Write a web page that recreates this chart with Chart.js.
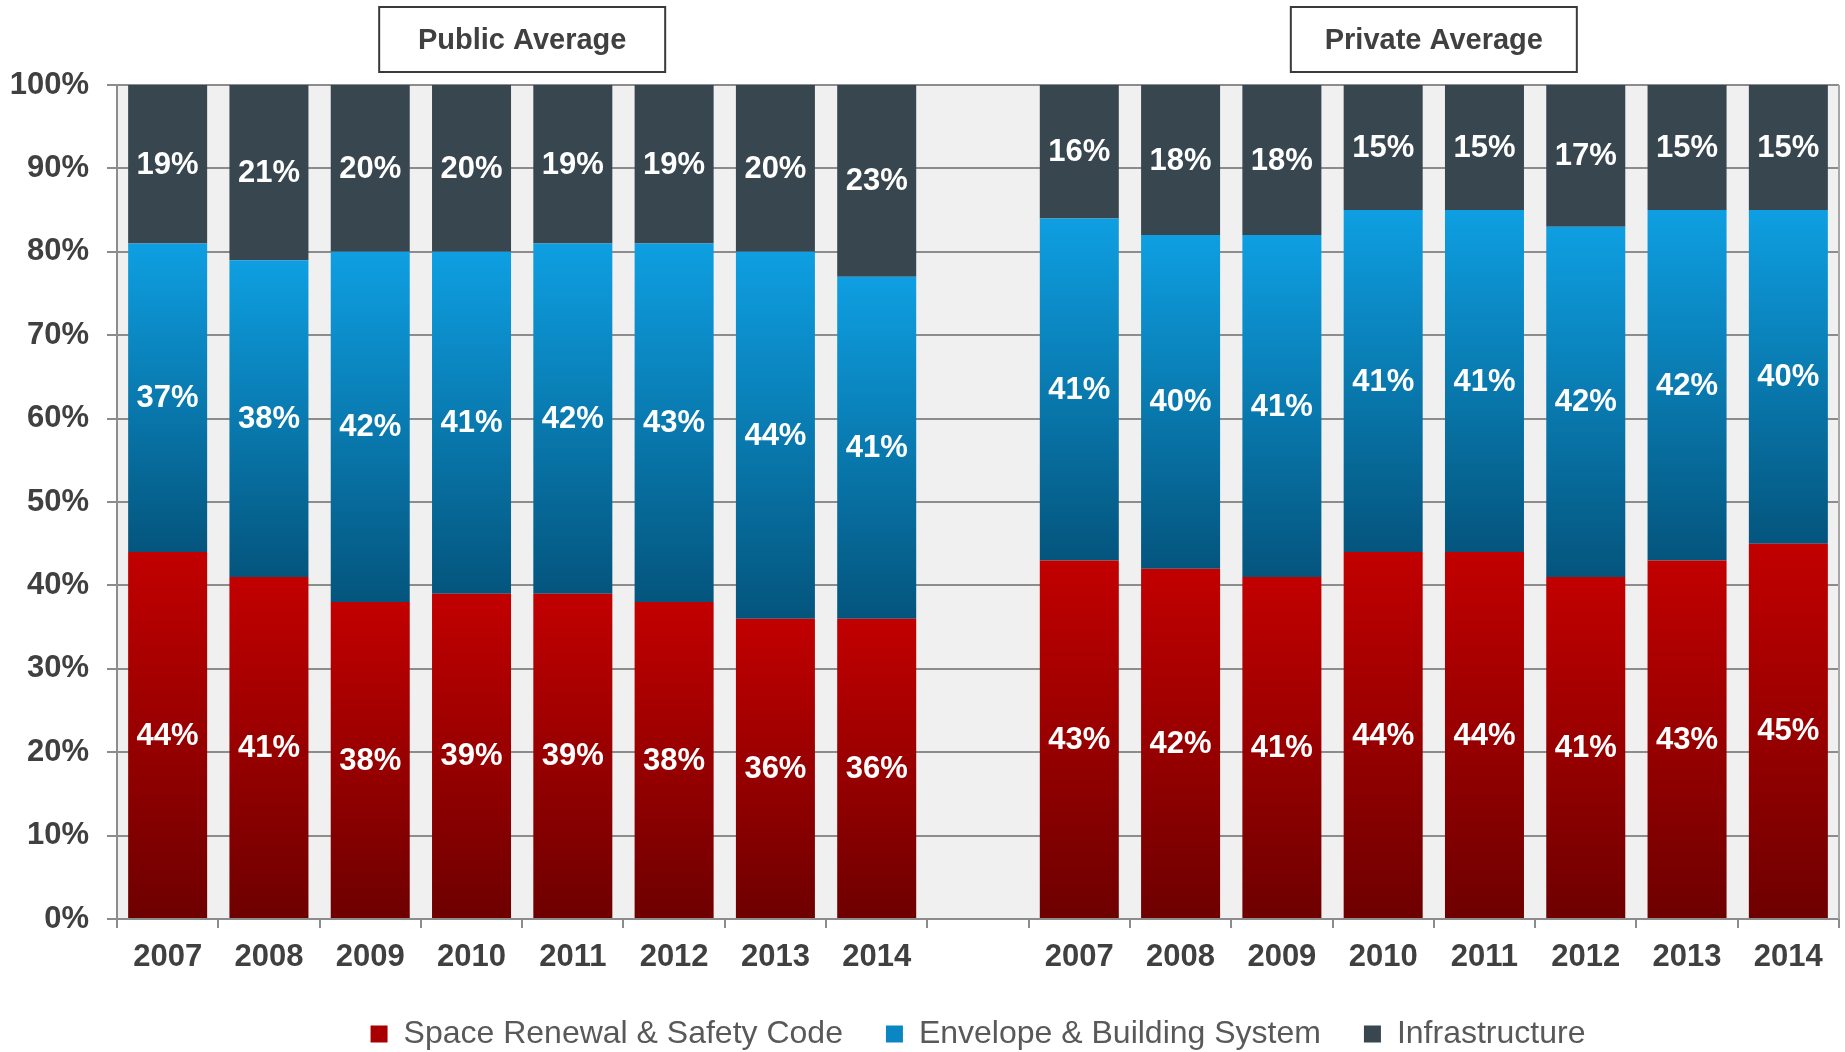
<!DOCTYPE html>
<html>
<head>
<meta charset="utf-8">
<title>Capital Renewal Mix by Year</title>
<script src="https://cdn.jsdelivr.net/npm/chart.js@4.4.1/dist/chart.umd.min.js"></script>
<style>
  html, body { margin: 0; padding: 0; background: #ffffff; }
</style>
</head>
<body>
<canvas id="mix" width="1845" height="1052"></canvas>
<script>
const years = ['2007', '2008', '2009', '2010', '2011', '2012', '2013', '2014'];
const groups = ['Public Average', 'Private Average'];
const seriesNames = ['Space Renewal & Safety Code', 'Envelope & Building System', 'Infrastructure'];

// share of spend per year, percent
const spacePublic = [44, 41, 38, 39, 39, 38, 36, 36];
const envelopePublic = [37, 38, 42, 41, 42, 43, 44, 41];
const infraPublic = [19, 21, 20, 20, 19, 19, 20, 23];

const spacePrivate = [43, 42, 41, 44, 44, 41, 43, 45];
const envelopePrivate = [41, 40, 41, 41, 41, 42, 42, 40];
const infraPrivate = [16, 18, 18, 15, 15, 17, 15, 15];

const FONT = '"Liberation Sans", Arial, sans-serif';

// one empty category separates the two groups
const labels = [...years, '', ...years];
const join = (a, b) => [...a, null, ...b];

// vertical gradient spanning just the one stacked segment
function segmentFill(topColor, bottomColor) {
  return (ctx) => {
    const chart = ctx.chart;
    const y = chart.scales.y;
    if (ctx.type !== 'data' || !y) return bottomColor;
    let base = 0;
    for (let d = 0; d < ctx.datasetIndex; d++) {
      base += chart.data.datasets[d].data[ctx.dataIndex] || 0;
    }
    const y0 = y.getPixelForValue(base + (ctx.raw || 0));
    const y1 = y.getPixelForValue(base);
    if (!isFinite(y0) || !isFinite(y1) || y0 === y1) return bottomColor;
    const g = chart.ctx.createLinearGradient(0, y0, 0, y1);
    g.addColorStop(0, topColor);
    g.addColorStop(1, bottomColor);
    return g;
  };
}

const swatches = ['#a80000', '#0a86c2', '#37464f'];

const plotBackground = {
  id: 'plotBackground',
  beforeDraw(chart) {
    const a = chart.chartArea;
    const ctx = chart.ctx;
    ctx.save();
    ctx.fillStyle = '#f0f0f0';
    ctx.fillRect(a.left, a.top, a.right - a.left, a.bottom - a.top);
    ctx.restore();
  },
  afterDraw(chart) {
    const a = chart.chartArea;
    const ctx = chart.ctx;
    ctx.save();
    ctx.strokeStyle = '#a6a6a6';
    ctx.lineWidth = 2;
    ctx.beginPath();
    ctx.moveTo(a.right, a.top);
    ctx.lineTo(a.right, a.bottom);
    ctx.stroke();
    ctx.restore();
  }
};

const segmentLabels = {
  id: 'segmentLabels',
  afterDatasetsDraw(chart) {
    const ctx = chart.ctx;
    ctx.save();
    ctx.font = 'bold 31px ' + FONT;
    ctx.fillStyle = '#ffffff';
    ctx.textAlign = 'center';
    ctx.textBaseline = 'middle';
    chart.data.datasets.forEach((ds, di) => {
      chart.getDatasetMeta(di).data.forEach((bar, i) => {
        const v = ds.data[i];
        if (v == null) return;
        const p = bar.getProps(['x', 'y', 'base'], true);
        ctx.fillText(v + '%', p.x, (p.y + p.base) / 2 + 1);
      });
    });
    ctx.restore();
  }
};

const groupHeaders = {
  id: 'groupHeaders',
  afterDraw(chart) {
    const x = chart.scales.x;
    const ctx = chart.ctx;
    const n = years.length;
    const w = 286, h = 65, top = 7;
    groups.forEach((name, g) => {
      const first = g * (n + 1);
      const cx = (x.getPixelForValue(first) + x.getPixelForValue(first + n - 1)) / 2;
      ctx.save();
      ctx.fillStyle = '#ffffff';
      ctx.fillRect(cx - w / 2, top, w, h);
      ctx.strokeStyle = '#3a3a3a';
      ctx.lineWidth = 2;
      ctx.strokeRect(cx - w / 2, top, w, h);
      ctx.font = 'bold 29px ' + FONT;
      ctx.fillStyle = '#404040';
      ctx.textAlign = 'center';
      ctx.textBaseline = 'middle';
      ctx.fillText(name, cx, top + h / 2 + 1);
      ctx.restore();
    });
  }
};

new Chart(document.getElementById('mix'), {
  type: 'bar',
  data: {
    labels: labels,
    datasets: [
      { label: seriesNames[0], data: join(spacePublic, spacePrivate), backgroundColor: segmentFill('#c20000', '#6e0000') },
      { label: seriesNames[1], data: join(envelopePublic, envelopePrivate), backgroundColor: segmentFill('#0e9fe2', '#04557d') },
      { label: seriesNames[2], data: join(infraPublic, infraPrivate), backgroundColor: '#37464f' }
    ]
  },
  options: {
    responsive: false,
    devicePixelRatio: 1,
    animation: false,
    datasets: { bar: { barPercentage: 0.78, categoryPercentage: 1.0, borderWidth: 0 } },
    layout: { padding: { top: 85, right: 6, left: 0, bottom: 0 } },
    scales: {
      x: {
        stacked: true,
        grid: { offset: true, drawOnChartArea: false, tickLength: 9, color: '#8c8c8c', lineWidth: 2 },
        border: { color: '#8c8c8c', width: 2 },
        ticks: { color: '#404040', font: { family: FONT, size: 31, weight: 'bold' }, padding: 11, maxRotation: 0, autoSkip: false },
        afterFit: (s) => { s.height = 56; }
      },
      y: {
        stacked: true,
        min: 0,
        max: 100,
        grid: { color: '#8c8c8c', lineWidth: 2, tickLength: 10 },
        border: { color: '#8c8c8c', width: 2 },
        ticks: { stepSize: 10, color: '#404040', font: { family: FONT, size: 31, weight: 'bold' }, padding: 18, callback: (v) => v + '%' },
        afterFit: (s) => { s.width = 117; }
      }
    },
    plugins: {
      tooltip: { enabled: false },
      legend: {
        position: 'bottom',
        fullSize: false,
        maxHeight: 77,
        labels: {
          boxWidth: 17,
          boxHeight: 17,
          padding: 43,
          color: '#595959',
          font: { family: FONT, size: 32 },
          generateLabels: (chart) => chart.data.datasets.map((ds, i) => ({
            text: ds.label,
            fillStyle: swatches[i],
            strokeStyle: swatches[i],
            lineWidth: 0,
            fontColor: '#595959',
            hidden: false,
            datasetIndex: i
          }))
        }
      }
    }
  },
  plugins: [plotBackground, segmentLabels, groupHeaders]
});
</script>
</body>
</html>
